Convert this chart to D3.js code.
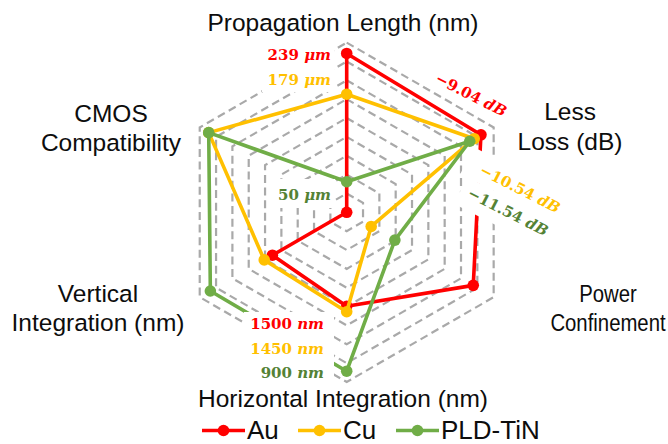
<!DOCTYPE html>
<html>
<head>
<meta charset="utf-8">
<script src="https://cdn.jsdelivr.net/npm/d3@7/dist/d3.min.js"></script>
<style>
  html, body { margin: 0; padding: 0; background: #ffffff; }
  svg { display: block; }
</style>
</head>
<body>
<svg id="chart" width="668" height="444"></svg>
<script>
// ---- data -------------------------------------------------------------
const axisNames = [
  ["Propagation Length (nm)"],
  ["Less", "Loss (dB)"],
  ["Power", "Confinement"],
  ["Horizontal Integration (nm)"],
  ["Vertical", "Integration (nm)"],
  ["CMOS", "Compatibility"]
];
// value at the centre and at the outer ring of every axis
const axisDomains = [[5, 255], [-39, -6.2], [0, 9], [2370, 800], [0, 9], [0, 9]];
const seriesNames = ["Au", "Cu", "PLD-TiN"];
const auValues  = [239, -9.04, 7.75, 1500, 4.55, 0];
const cuValues  = [179, -10.54, 1.5, 1450, 5.05, 8.45];
const tinValues = [50, -11.54, 2.95, 900, 8.35, 8.45];
const ringCount = 9;

const seriesValues = [auValues, cuValues, tinValues];
const lineColors = ["#ff0000", "#ffc000", "#70ad47"];
const textColors = ["#ff0000", "#ffc000", "#548235"];

// ---- layout -----------------------------------------------------------
const cx = 346.7, cy = 212.3, R = 169.7;
const svg = d3.select("#chart");
svg.append("rect").attr("width", 668).attr("height", 444).attr("fill", "#fff");

const angle = d3.scalePoint().domain(d3.range(6)).range([0, 2 * Math.PI * 5 / 6]);
const radial = axisDomains.map(d => d3.scaleLinear().domain(d).range([0, R]));
const ringScale = d3.scaleLinear().domain([0, ringCount]).range([0, R]);

const g = svg.append("g").attr("transform", `translate(${cx},${cy})`);

// dashed hexagonal rings
const ringLine = d3.lineRadial()
  .angle(d => angle(d.i))
  .radius(d => d.r)
  .curve(d3.curveLinearClosed);
g.append("g").selectAll("path")
  .data(d3.range(1, ringCount + 1))
  .join("path")
  .attr("d", k => ringLine(d3.range(6).map(i => ({ i, r: ringScale(k) }))))
  .attr("fill", "none")
  .attr("stroke", "#a9a9a9")
  .attr("stroke-width", 2.2)
  .attr("stroke-dasharray", "8,4.6");

// series outlines and markers
const seriesLine = d3.lineRadial()
  .angle((v, i) => angle(i))
  .radius((v, i) => radial[i](v))
  .curve(d3.curveLinearClosed);
const pt = (v, i) => {
  const a = angle(i), r = radial[i](v);
  return [r * Math.sin(a), -r * Math.cos(a)];
};
seriesValues.forEach((vals, s) => {
  const sg = g.append("g");
  sg.append("path")
    .attr("d", seriesLine(vals))
    .attr("fill", "none")
    .attr("stroke", lineColors[s])
    .attr("stroke-width", 3.6)
    .attr("stroke-linejoin", "round");
  sg.selectAll("circle")
    .data(vals)
    .join("circle")
    .attr("cx", (v, i) => pt(v, i)[0])
    .attr("cy", (v, i) => pt(v, i)[1])
    .attr("r", 5.8)
    .attr("fill", lineColors[s]);
});

// ---- value call-outs (white boxes over the grid) ---------------------
const mathFont = "'DejaVu Serif', 'Liberation Serif', serif";
const minus = "\u2212";

function callout(x, y, w, h, rot) {
  svg.append("rect")
    .attr("x", -w / 2).attr("y", -h / 2)
    .attr("width", w).attr("height", h)
    .attr("fill", "#fff")
    .attr("transform", `translate(${x},${y}) rotate(${rot})`);
}
function mathLabel(parent, x, y, num, unit, color, anchor) {
  const t = parent.append("text")
    .attr("x", x).attr("y", y)
    .attr("text-anchor", anchor)
    .attr("font-family", mathFont)
    .attr("font-size", 15)
    .attr("font-weight", "bold")
    .attr("fill", color);
  t.append("tspan").text(num + " ");
  t.append("tspan").attr("font-style", "italic").text(unit);
  return t;
}

// Propagation length
callout(298, 68, 72, 48, 0);
callout(301, 193.5, 68, 29, 0);
const propY = [60, 85, 200];
seriesValues.forEach((vals, s) => {
  mathLabel(svg, 331, propY[s], String(vals[0]), "\u03bcm", textColors[s], "end");
});

// Horizontal integration
callout(289, 346, 90, 68, 0);
const horY = [329, 353.5, 378];
seriesValues.forEach((vals, s) => {
  mathLabel(svg, 324, horY[s], String(vals[3]), "nm", textColors[s], "end");
});

// Loss
callout(471, 95, 96, 26, 27);
callout(517, 186, 112, 30, 27);
callout(507, 214, 104, 30, 27);
const lossPos = [[471, 95], [520, 189], [508, 212]];
seriesValues.forEach((vals, s) => {
  const [x, y] = lossPos[s];
  const lg = svg.append("g").attr("transform", `translate(${x},${y}) rotate(27)`);
  mathLabel(lg, 0, 5, minus + Math.abs(vals[1]).toFixed(2), "dB", textColors[s], "middle");
});

// ---- axis names -------------------------------------------------------
const axisFont = "'Liberation Sans', Arial, sans-serif";
const namePos = [
  { x: 343, y: [30.5], sx: 1 },
  { x: 570, y: [119.5, 149.5], sx: 1 },
  { x: 608, y: [302.5, 331.5], sx: 0.83 },
  { x: 343, y: [406.5], sx: 1 },
  { x: 98,  y: [301.5, 330.5], sx: 1 },
  { x: 111, y: [121.5, 150.5], sx: 1 }
];
axisNames.forEach((lines, i) => {
  const p = namePos[i];
  const ng = svg.append("g")
    .attr("transform", `translate(${p.x},0) scale(${p.sx},1)`);
  lines.forEach((ln, j) => {
    ng.append("text")
      .attr("x", 0).attr("y", p.y[j])
      .attr("text-anchor", "middle")
      .attr("font-family", axisFont)
      .attr("font-size", 24.5)
      .attr("fill", "#0d0d0d")
      .text(ln);
  });
});

// ---- legend -----------------------------------------------------------
const legendX = [202, 298, 396];
const legendY = 430.5;
const lg = svg.append("g");
seriesNames.forEach((name, s) => {
  const x0 = legendX[s];
  lg.append("line")
    .attr("x1", x0).attr("x2", x0 + 43)
    .attr("y1", legendY).attr("y2", legendY)
    .attr("stroke", lineColors[s]).attr("stroke-width", 3.6);
  lg.append("circle")
    .attr("cx", x0 + 21.5).attr("cy", legendY).attr("r", 5.8)
    .attr("fill", lineColors[s]);
  lg.append("text")
    .attr("x", x0 + 45).attr("y", 438.5)
    .attr("font-family", axisFont)
    .attr("font-size", 26)
    .attr("fill", "#0d0d0d")
    .text(name);
});
</script>
</body>
</html>
